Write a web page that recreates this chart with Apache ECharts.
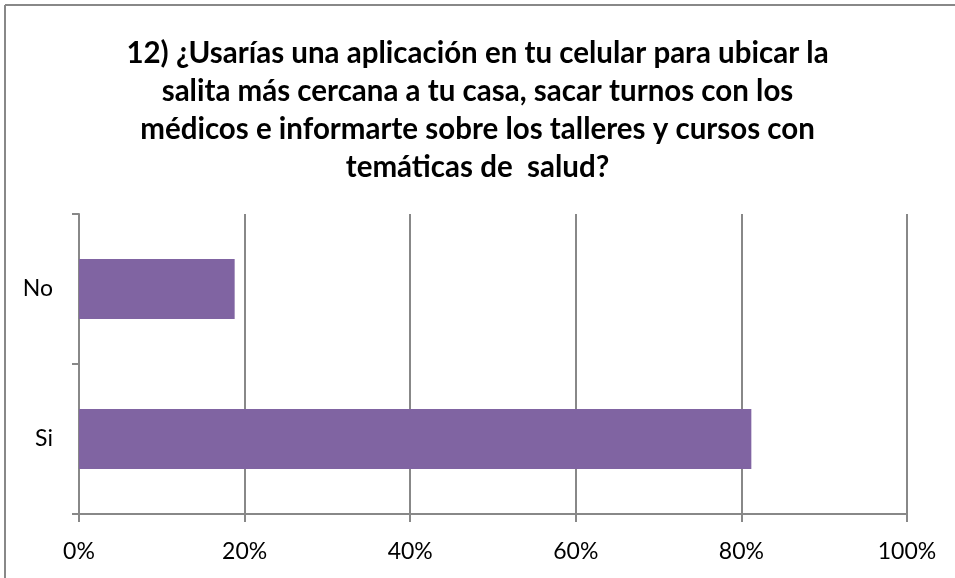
<!DOCTYPE html>
<html>
<head>
<meta charset="utf-8">
<script src="https://cdn.jsdelivr.net/npm/echarts@6/dist/echarts.min.js"></script>
<style>
  html, body { margin: 0; padding: 0; background: #fff; }
  #main { width: 955px; height: 578px; }
</style>
</head>
<body>
<div id="main"></div>
<script>
// datos de la encuesta
var categorias = ['Si', 'No'];
var valores = [81.2, 18.8];
var ticks = ['0%', '20%', '40%', '60%', '80%', '100%'];

var titulo = '12) ¿Usarías una aplicación en tu celular para ubicar la\n' +
    'salita más cercana a tu casa, sacar turnos con los\n' +
    'médicos e informarte sobre los talleres y cursos con\n' +
    'temáticas de  salud?';

var chart = echarts.init(document.getElementById('main'));
chart.setOption({
    animation: false,
    textStyle: { fontFamily: 'Lato' },
    title: {
        text: titulo,
        left: 'center',
        top: 29,
        textStyle: {
            fontFamily: 'Lato',
            fontWeight: 'bold',
            fontSize: 29.5,
            lineHeight: 38,
            color: '#000'
        }
    },
    // marco del grafico (solo izquierda y arriba visibles)
    graphic: [
        { type: 'line', shape: { x1: 5, y1: 5, x2: 955, y2: 5 }, style: { stroke: '#888', lineWidth: 2 } },
        { type: 'line', shape: { x1: 5, y1: 5, x2: 5, y2: 578 }, style: { stroke: '#888', lineWidth: 2 } }
    ],
    grid: {
        left: 79,
        right: 48,
        top: 214,
        bottom: 64
    },
    xAxis: {
        type: 'value',
        min: 0,
        max: 100,
        interval: 20,
        axisLine: { show: true, lineStyle: { color: '#888', width: 2 } },
        axisTick: { show: true, length: 8, lineStyle: { color: '#888', width: 2 } },
        splitLine: { show: true, lineStyle: { color: '#888', width: 2 } },
        axisLabel: {
            margin: 26,
            fontSize: 23,
            color: '#000',
            formatter: function (v) { return ticks[Math.round(v / 20)]; }
        }
    },
    yAxis: {
        type: 'category',
        data: categorias,
        axisLine: { show: true, lineStyle: { color: '#888', width: 2 } },
        axisTick: { show: true, length: 7, lineStyle: { color: '#888', width: 2 } },
        axisLabel: { margin: 26, fontSize: 23, color: '#000' }
    },
    series: [{
        type: 'bar',
        data: valores,
        barCategoryGap: '60%',
        itemStyle: { color: '#8064A2' }
    }]
});
</script>
</body>
</html>
